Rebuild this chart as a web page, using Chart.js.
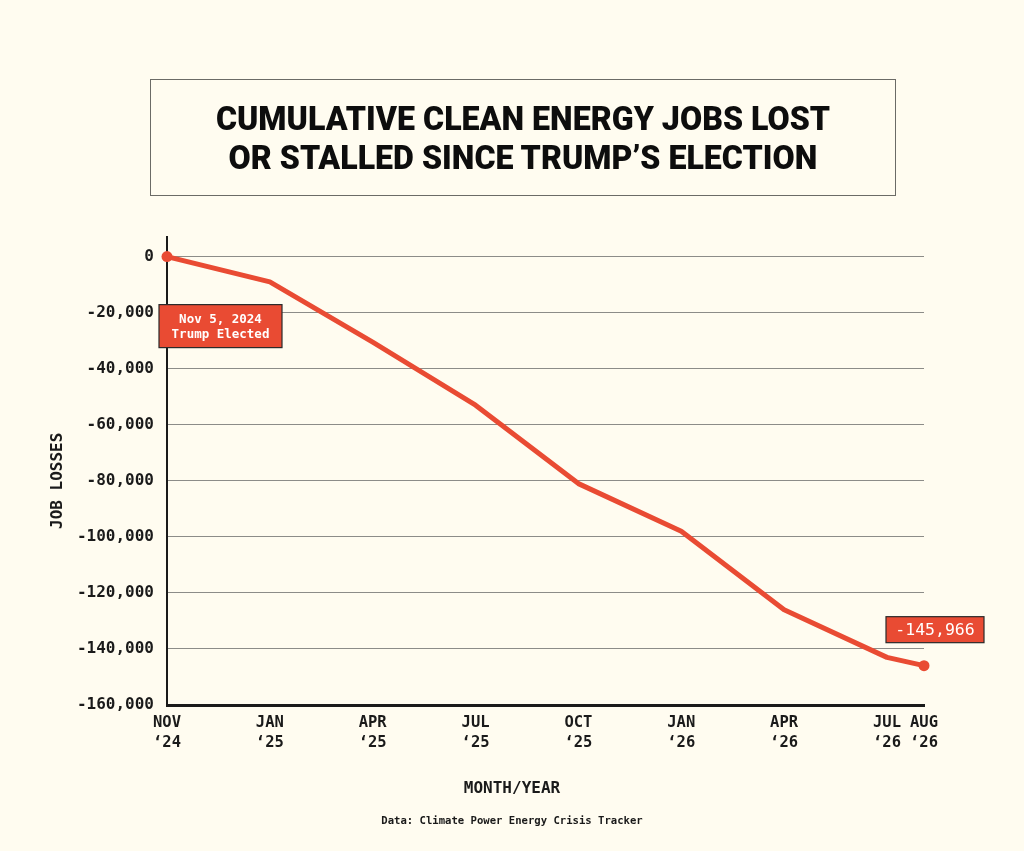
<!DOCTYPE html>
<html>
<head>
<meta charset="utf-8">
<script src="https://cdn.jsdelivr.net/npm/chart.js@4.4.1/dist/chart.umd.min.js"></script>
<style>
  html, body { margin: 0; padding: 0; background: #fffcf0; }
  #wrap { position: relative; width: 1024px; height: 851px; overflow: hidden; }
  #chart { position: absolute; left: 0; top: 0; }
  #titleBox {
    position: absolute; left: 150px; top: 79px; width: 746px; height: 117px;
    border: 1px solid #6b6b66; box-sizing: border-box;
    display: flex; flex-direction: column; align-items: center; justify-content: center;
  }
  #titleBox div {
    font-family: Roboto, Inter, sans-serif; font-weight: 900; font-size: 33px;
    line-height: 39px; color: #0d0d0d;
    transform: scaleX(0.975); white-space: nowrap;
  }
  #source {
    position: absolute; left: 0; width: 1024px; top: 814px; text-align: center;
    font-family: "DejaVu Sans Mono", monospace; font-size: 10.6px; font-weight: bold; color: #1a1a1a;
  }
</style>
</head>
<body>
<div id="wrap">
  <canvas id="chart" width="1024" height="851"></canvas>
  <div id="titleBox">
    <div>CUMULATIVE CLEAN ENERGY JOBS LOST</div>
    <div>OR STALLED SINCE TRUMP’S ELECTION</div>
  </div>
  <div id="source">Data: Climate Power Energy Crisis Tracker</div>
</div>
<script>
const monthLabels = ['NOV', 'JAN', 'APR', 'JUL', 'OCT', 'JAN', 'APR', 'JUL', 'AUG'];
const yearLabels = ['‘24', '‘25', '‘25', '‘25', '‘25', '‘26', '‘26', '‘26', '‘26'];
const xSlots = [0, 1, 2, 3, 4, 5, 6, 7, 7.36];
const jobLosses = [0, -9000, -30500, -53000, -81000, -98000, -126000, -143000, -145966];
const yTicks = [0, -20000, -40000, -60000, -80000, -100000, -120000, -140000, -160000];

const red = '#e94b33';
const ink = '#1a1a1a';
const mono = '"DejaVu Sans Mono", "Liberation Mono", monospace';

// red callout boxes tied to the first and last points, plus both axis titles
const calloutPlugin = {
  id: 'callouts',
  afterDatasetsDraw(chart) {
    const ctx = chart.ctx;
    const xs = chart.scales.x, ys = chart.scales.y;
    const last = jobLosses.length - 1;

    function box(cx, cy, w, h, lines, font, lh) {
      ctx.save();
      ctx.fillStyle = red;
      ctx.fillRect(cx - w / 2, cy - h / 2, w, h);
      ctx.strokeStyle = '#2a2a2a';
      ctx.lineWidth = 1.2;
      ctx.strokeRect(cx - w / 2, cy - h / 2, w, h);
      ctx.fillStyle = '#ffffff';
      ctx.font = font;
      ctx.textAlign = 'center';
      ctx.textBaseline = 'middle';
      lines.forEach((t, i) => {
        ctx.fillText(t, cx, cy + 1.5 + (i - (lines.length - 1) / 2) * lh);
      });
      ctx.restore();
    }

    const x0 = xs.getPixelForValue(xSlots[0]);
    const y0 = ys.getPixelForValue(jobLosses[0]);
    box(x0 + 53.5, y0 + 69.5, 123, 43, ['Nov 5, 2024', 'Trump Elected'], 'bold 12.5px ' + mono, 15);

    const xl = xs.getPixelForValue(xSlots[last]);
    const yl = ys.getPixelForValue(jobLosses[last]);
    box(xl + 11, yl - 36, 98, 26, [jobLosses[last].toLocaleString('en-US')], '16.5px ' + mono, 16);

    ctx.save();
    ctx.fillStyle = ink;
    ctx.font = 'bold 16px ' + mono;
    ctx.textAlign = 'center';
    ctx.textBaseline = 'middle';
    // x title sits on the page centre, not the plot centre
    ctx.fillText('MONTH/YEAR', chart.width / 2, 789);
    // y title, centred between the 0 line and the bottom axis
    ctx.translate(58, (ys.getPixelForValue(0) + ys.bottom) / 2);
    ctx.rotate(-Math.PI / 2);
    ctx.fillText('JOB LOSSES', 0, 0);
    ctx.restore();
  }
};

new Chart(document.getElementById('chart'), {
  type: 'line',
  data: {
    datasets: [{
      data: xSlots.map((x, i) => ({ x: x, y: jobLosses[i] })),
      borderColor: red,
      borderWidth: 5,
      tension: 0,
      borderJoinStyle: 'round',
      pointRadius: jobLosses.map((v, i) => (i === 0 || i === jobLosses.length - 1) ? 5.5 : 0),
      pointBackgroundColor: red,
      pointBorderWidth: 0,
      clip: false
    }]
  },
  options: {
    responsive: false,
    animation: false,
    events: [],
    layout: { padding: { left: 0, right: 100, top: 237, bottom: 0 } },
    plugins: {
      legend: { display: false },
      tooltip: { enabled: false }
    },
    scales: {
      x: {
        type: 'linear',
        min: 0,
        max: 7.36,
        afterBuildTicks: axis => { axis.ticks = xSlots.map(v => ({ value: v })); },
        afterFit: scale => { scale.height = 146; },
        grid: { display: false, drawTicks: false },
        border: { color: ink, width: 3 },
        ticks: {
          autoSkip: false,
          maxRotation: 0,
          padding: 8,
          color: ink,
          font: { family: mono, size: 15.5, weight: 'bold', lineHeight: 1.3 },
          callback: (v, i) => [monthLabels[i], yearLabels[i]]
        }
      },
      y: {
        min: -160000,
        max: 7000,
        afterBuildTicks: axis => { axis.ticks = yTicks.map(v => ({ value: v })); },
        afterFit: scale => { scale.width = 167; },
        grid: { color: '#8c8c88', lineWidth: 1, drawTicks: false },
        border: { color: ink, width: 2 },
        ticks: {
          padding: 13,
          color: ink,
          font: { family: mono, size: 16, weight: 'bold' },
          callback: v => v.toLocaleString('en-US')
        }
      }
    }
  },
  plugins: [calloutPlugin]
});
</script>
</body>
</html>
